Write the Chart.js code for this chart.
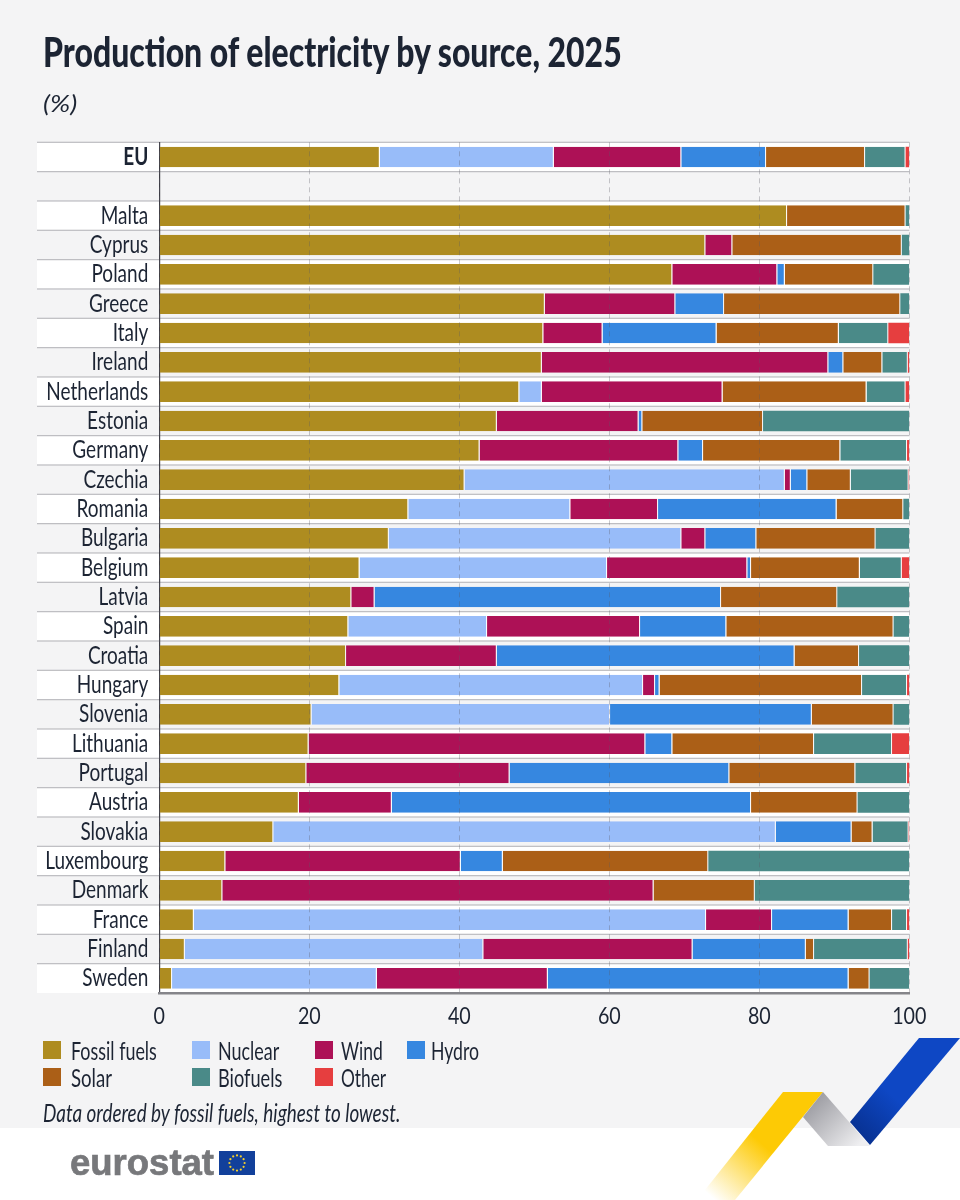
<!DOCTYPE html>
<html>
<head>
<meta charset="utf-8">
<title>Production of electricity by source, 2025</title>
<script src="https://cdn.jsdelivr.net/npm/chart.js@4/dist/chart.umd.min.js"></script>
<style>
  html, body { margin: 0; padding: 0; }
  body { width: 960px; height: 1200px; position: relative; overflow: hidden; background: #f4f4f5; color: #1c2433; font-family: Lato, "Liberation Sans", sans-serif; }
  #footer { position: absolute; left: 0; top: 1128px; width: 960px; height: 72px; background: #fff; }
  #chart { position: absolute; left: 0; top: 0; }
  /* no condensed face is installed, so html text is squeezed to the widths in the picture */
  .squeeze { position: absolute; white-space: nowrap; transform-origin: 0 50%; }
  #title { left: 43px; top: 29px; font-size: 41px; line-height: 46px; font-weight: 900; }
  #unit { left: 43px; top: 89px; font-size: 24px; line-height: 28px; font-style: italic; }
  .swatch { position: absolute; width: 18px; height: 18px; }
  .lab { font-size: 25px; line-height: 28px; }
  #note { left: 43px; top: 1098px; font-size: 25px; line-height: 28px; font-style: italic; }
  #logo { position: absolute; left: 70px; top: 1142px; font-family: "Liberation Sans", sans-serif; font-weight: bold; font-size: 36.5px; line-height: 42px; color: #77787b; -webkit-text-stroke: 0.7px #77787b; }
  svg { position: absolute; left: 0; top: 0; }
</style>
</head>
<body>
<div id="footer"></div>
<svg width="960" height="1200" viewBox="0 0 960 1200">
  <defs>
    <linearGradient id="yellow" x1="803" y1="1100" x2="715" y2="1200" gradientUnits="userSpaceOnUse">
      <stop offset="0.45" stop-color="#fdca05"/>
      <stop offset="1" stop-color="#fdca05" stop-opacity="0"/>
    </linearGradient>
    <linearGradient id="grey" x1="812" y1="1100" x2="858" y2="1146" gradientUnits="userSpaceOnUse">
      <stop offset="0" stop-color="#9c9ca2"/>
      <stop offset="1" stop-color="#efeff1"/>
    </linearGradient>
    <linearGradient id="blue" x1="935" y1="1060" x2="860" y2="1140" gradientUnits="userSpaceOnUse">
      <stop offset="0.5" stop-color="#0e47c4"/>
      <stop offset="1" stop-color="#07308f"/>
    </linearGradient>
  </defs>
  <polygon points="783,1092 823,1092 735,1200 697,1200" fill="url(#yellow)"/>
  <polygon points="823,1092 870,1146 828,1146 803,1117" fill="url(#grey)"/>
  <polygon points="919,1038 960,1038 870,1145 850,1122" fill="url(#blue)"/>
  <rect x="219" y="1151" width="36" height="24" fill="#12409b"/>
  <g id="stars" fill="#f5cf2a"></g>
</svg>
<canvas id="chart" width="960" height="1200"></canvas>
<div id="title" class="squeeze">Production of electricity by source, 2025</div>
<div id="unit" class="squeeze">(%)</div>
<div id="legend"></div>
<div id="note" class="squeeze">Data ordered by fossil fuels, highest to lowest.</div>
<div id="logo">eurostat</div>

<script>
const categories = ['EU', '', 'Malta', 'Cyprus', 'Poland', 'Greece', 'Italy', 'Ireland', 'Netherlands', 'Estonia', 'Germany', 'Czechia', 'Romania', 'Bulgaria', 'Belgium', 'Latvia', 'Spain', 'Croatia', 'Hungary', 'Slovenia', 'Lithuania', 'Portugal', 'Austria', 'Slovakia', 'Luxembourg', 'Denmark', 'France', 'Finland', 'Sweden'];
const seriesNames = ['Fossil fuels', 'Nuclear', 'Wind', 'Hydro', 'Solar', 'Biofuels', 'Other'];
const seriesColors = ['#ae8c20', '#98bcf9', '#ad1156', '#3687e0', '#ab5f17', '#4a8a88', '#e63e3f'];
const xTicks = [0, 20, 40, 60, 80, 100];

const fossil =   [29.4, null, 83.7, 72.8, 68.4, 51.4, 51.2, 51.0, 48.0, 45.0, 42.7, 40.7, 33.2, 30.6, 26.7, 25.6, 25.2, 24.9, 24.0, 20.3, 19.9, 19.6, 18.6, 15.2, 8.8, 8.4, 4.6, 3.4, 1.7];
const nuclear =  [23.2, null, 0, 0, 0, 0, 0, 0, 3.0, 0, 0, 42.7, 21.6, 39.0, 33.0, 0, 18.5, 0, 40.5, 39.8, 0, 0, 0, 67.0, 0, 0, 68.3, 39.8, 27.3];
const wind =     [17.0, null, 0, 3.6, 14.0, 17.4, 7.9, 38.2, 24.1, 18.9, 26.5, 0.8, 11.7, 3.2, 18.7, 3.1, 20.4, 20.1, 1.6, 0, 44.9, 27.1, 12.4, 0, 31.4, 57.5, 8.8, 27.9, 22.8];
const hydro =    [11.3, null, 0, 0, 1.0, 6.5, 15.2, 2.0, 0, 0.5, 3.3, 2.2, 23.8, 6.8, 0.5, 46.2, 11.5, 39.7, 0.6, 26.9, 3.6, 29.3, 47.9, 10.1, 5.6, 0, 10.2, 15.1, 40.1];
const solar =    [13.2, null, 15.8, 22.6, 11.8, 23.5, 16.3, 5.2, 19.2, 16.1, 18.3, 5.8, 8.9, 15.9, 14.5, 15.5, 22.3, 8.6, 27.0, 10.9, 18.9, 16.8, 14.2, 2.8, 27.4, 13.5, 5.8, 1.1, 2.8];
const biofuels = [5.4, null, 0.5, 1.0, 4.8, 1.2, 6.6, 3.4, 5.2, 19.5, 8.9, 7.7, 0.8, 4.5, 5.6, 9.6, 2.1, 6.7, 6.0, 2.1, 10.4, 6.9, 6.9, 4.8, 26.8, 20.6, 2.0, 12.5, 5.3];
const other =    [0.5, null, 0, 0, 0, 0, 2.8, 0.2, 0.5, 0, 0.3, 0.1, 0, 0, 1.0, 0, 0, 0, 0.3, 0, 2.3, 0.3, 0, 0.1, 0, 0, 0.3, 0.2, 0];
const seriesValues = [fossil, nuclear, wind, hydro, solar, biofuels, other];

const labelFont = 'Lato, "Liberation Sans", sans-serif';
const textColor = '#1c2433';

function squeezeTo(el, targetWidth) {
    el.style.transform = 'scaleX(' + (targetWidth / el.offsetWidth) + ')';
}

// legend is plain html, positions copied from the picture
const legendX = [43, 192, 315, 407, 43, 192, 315];
const legendTextX = [71, 218, 341, 431, 71, 218, 341];
const legendTextW = [86, 61, 42, 48, 41, 64, 45];
const legendY = [1041, 1041, 1041, 1041, 1068, 1068, 1068];
const legendBox = document.getElementById('legend');
seriesNames.forEach(function(name, i) {
    const sw = document.createElement('div');
    sw.className = 'swatch';
    sw.style.cssText = 'left:' + legendX[i] + 'px;top:' + legendY[i] + 'px;background:' + seriesColors[i];
    legendBox.appendChild(sw);
    const lab = document.createElement('div');
    lab.className = 'squeeze lab';
    lab.textContent = name;
    lab.style.left = legendTextX[i] + 'px';
    lab.style.top = (legendY[i] - 5) + 'px';
    legendBox.appendChild(lab);
    squeezeTo(lab, legendTextW[i]);
});
squeezeTo(document.getElementById('title'), 579);
squeezeTo(document.getElementById('unit'), 34);
squeezeTo(document.getElementById('note'), 357);

// twelve stars for the flag in the logo
const starBox = document.getElementById('stars');
for (let i = 0; i < 12; i++) {
    const a = i * Math.PI / 6;
    const dot = document.createElementNS('http://www.w3.org/2000/svg', 'circle');
    dot.setAttribute('cx', 237 + 7.6 * Math.cos(a));
    dot.setAttribute('cy', 1163 + 7.6 * Math.sin(a));
    dot.setAttribute('r', 1.1);
    starBox.appendChild(dot);
}

// white / grey row stripes and the thin rules between rows, behind everything
const rowBands = {
    id: 'rowBands',
    beforeDraw(chart) {
        const { ctx, chartArea, scales: { y } } = chart;
        const step = y.getPixelForValue(1) - y.getPixelForValue(0);
        ctx.save();
        categories.forEach(function(c, i) {
            const top = y.getPixelForValue(i) - step / 2;
            if (i % 2 === 0) {
                ctx.fillStyle = '#ffffff';
                ctx.fillRect(37, top, chartArea.right - 37, step);
            }
            ctx.fillStyle = '#bcbcc0';
            ctx.fillRect(37, top - 0.6, chartArea.right - 37, 1.2);
        });
        ctx.restore();
    }
};

function squeezedText(ctx, text, x, y, align, squeeze) {
    ctx.save();
    ctx.translate(x, y);
    ctx.scale(squeeze, 1);
    ctx.textAlign = align;
    ctx.textBaseline = 'alphabetic';
    ctx.fillText(text, 0, 0);
    ctx.restore();
}

// chart.js cannot squeeze tick text, so ticks are drawn here from the scales
const axisLabels = {
    id: 'axisLabels',
    afterDraw(chart) {
        const { ctx, chartArea, scales: { x, y } } = chart;
        ctx.save();
        ctx.fillStyle = textColor;
        categories.forEach(function(name, i) {
            ctx.font = (i === 0 ? 'bold ' : '') + '25px ' + labelFont;
            squeezedText(ctx, name, chartArea.left - 11, y.getPixelForValue(i) + 8, 'right', 0.76);
        });
        ctx.font = '24px ' + labelFont;
        x.ticks.forEach(function(t) {
            squeezedText(ctx, String(t.value), x.getPixelForValue(t.value), 1024, 'center', 0.82);
        });
        ctx.restore();
    }
};

// the light seam sits between segments, not after the last one of a row
function seamWidth(ctx) {
    let last = seriesValues.length - 1;
    while (last > 0 && !seriesValues[last][ctx.dataIndex]) last--;
    return { left: 0, top: 0, bottom: 0, right: ctx.datasetIndex < last ? 1 : 0 };
}

new Chart(document.getElementById('chart'), {
    type: 'bar',
    data: {
        labels: categories,
        datasets: seriesNames.map(function(name, i) {
            return {
                label: name,
                data: seriesValues[i],
                backgroundColor: seriesColors[i],
                borderColor: 'rgba(255,255,255,0.55)',
                borderWidth: seamWidth,
                borderSkipped: false,
                categoryPercentage: 1,
                barPercentage: 0.705
            };
        })
    },
    options: {
        indexAxis: 'y',
        responsive: false,
        animation: false,
        layout: { padding: { left: 37.3, right: 50.7, top: 142.3, bottom: 162 } },
        plugins: {
            legend: { display: false },
            title: { display: false },
            tooltip: { enabled: false }
        },
        scales: {
            x: {
                stacked: true,
                min: 0,
                max: 100,
                afterBuildTicks(scale) { scale.ticks = xTicks.map(v => ({ value: v })); },
                afterFit(scale) { scale.height = 45; },
                grid: { color: 'rgba(90,90,100,0.32)', z: 1, drawTicks: false, lineWidth: 1 },
                border: { color: '#85858a', width: 2.5, dash: [5, 4], z: 2 },
                ticks: { display: false }
            },
            y: {
                stacked: true,
                afterFit(scale) { scale.width = 122; },
                grid: { display: false },
                border: { color: '#3c3c44', width: 1.2 },
                ticks: { display: false, autoSkip: false }
            }
        }
    },
    plugins: [rowBands, axisLabels]
});
</script>
</body>
</html>
